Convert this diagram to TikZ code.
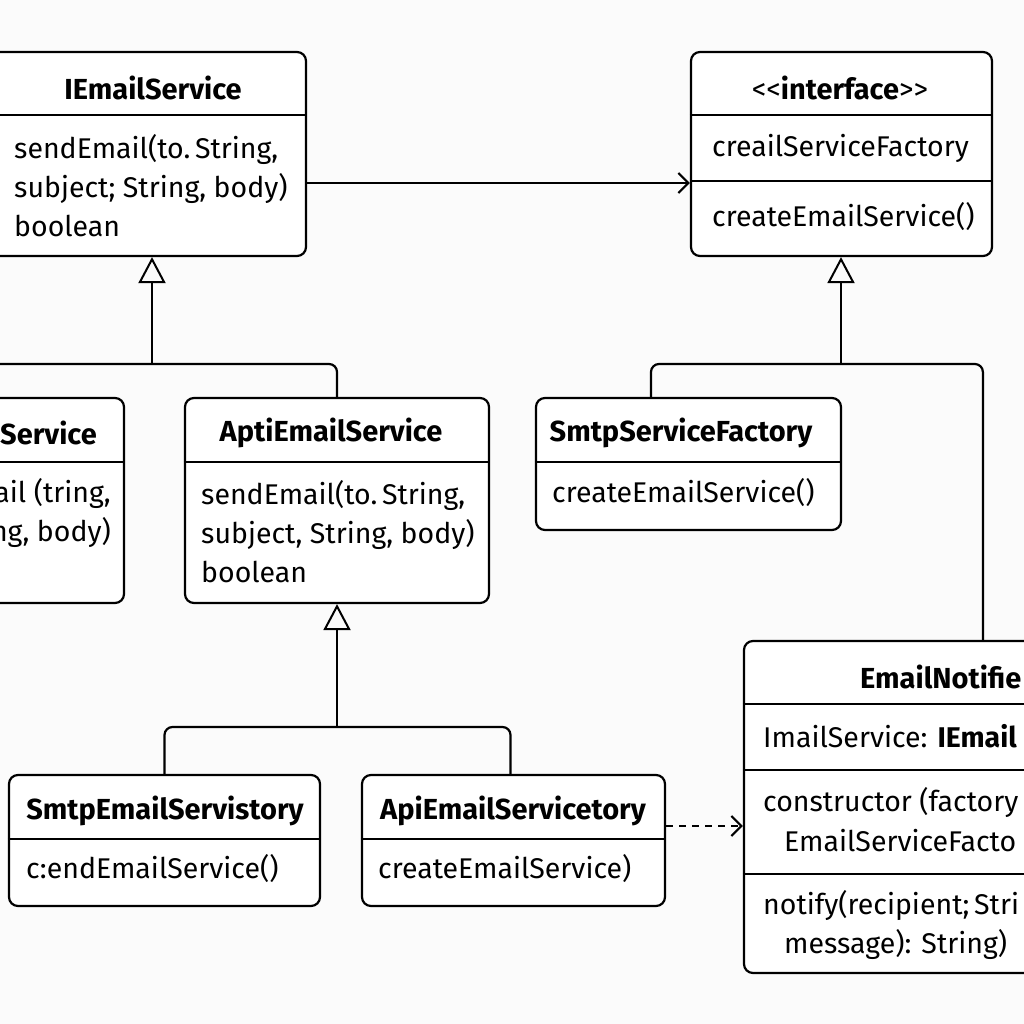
\documentclass[tikz,border=0pt]{standalone}
\usepackage{fontspec}
\setmainfont{Fira Sans}
\usetikzlibrary{arrows.meta,calc}
\definecolor{bgc}{RGB}{251,251,251}
\begin{document}
\begin{tikzpicture}[x=1pt,y=-1pt,
  box/.style={draw, line width=2.2pt, rounded corners=9pt, fill=white, inner sep=0pt},
  sepline/.style={line width=2.2pt},
  ttl/.style={font=\bfseries\fontsize{29}{32}\selectfont, inner sep=0pt},
  txt/.style={font=\fontsize{28.5}{39}\selectfont, inner sep=0pt, anchor=west, align=left},
  txte/.style={txt, anchor=east, align=right},
  conn/.style={line width=2.2pt},
  inh/.style={conn, -{Triangle[open, length=26pt, width=27pt, line width=2pt]}},
  opena/.style={conn, -{Straight Barb[length=10pt, width=20pt, line width=2.2pt]}},
  ]
\fill[bgc] (0,0) rectangle (1024,1024);
\useasboundingbox (0,0) rectangle (1024,1024);
\clip (0,0) rectangle (1024,1024);

% ---- boxes ----
\node[box, minimum width=326, minimum height=204] (ies) at (143,154) {};
\node[box, minimum width=301, minimum height=204] (iface) at (841.5,154) {};
\node[box, minimum width=304, minimum height=205] (lsvc) at (-28,500.5) {};
\node[box, minimum width=304, minimum height=205] (api) at (337,500.5) {};
\node[box, minimum width=305, minimum height=132] (smtpF) at (688.5,464) {};
\node[box, minimum width=311, minimum height=131] (sES) at (164.5,840.5) {};
\node[box, minimum width=303, minimum height=131] (aES) at (513.5,840.5) {};
\node[box, minimum width=356, minimum height=332] (notif) at (922,807) {};

% ---- separators ----
\draw[sepline] ($(ies.north west)+(0,64)$) -- ($(ies.north east)+(0,64)$);
\draw[sepline] ($(iface.north west)+(0,64)$) -- ($(iface.north east)+(0,64)$);
\draw[sepline] ($(iface.north west)+(0,130)$) -- ($(iface.north east)+(0,130)$);
\draw[sepline] ($(lsvc.north west)+(0,65)$) -- ($(lsvc.north east)+(0,65)$);
\draw[sepline] ($(api.north west)+(0,65)$) -- ($(api.north east)+(0,65)$);
\draw[sepline] ($(smtpF.north west)+(0,65)$) -- ($(smtpF.north east)+(0,65)$);
\draw[sepline] ($(sES.north west)+(0,65)$) -- ($(sES.north east)+(0,65)$);
\draw[sepline] ($(aES.north west)+(0,65)$) -- ($(aES.north east)+(0,65)$);
\draw[sepline] ($(notif.north west)+(0,64)$) -- ($(notif.north east)+(0,64)$);
\draw[sepline] ($(notif.north west)+(0,130)$) -- ($(notif.north east)+(0,130)$);
\draw[sepline] ($(notif.north west)+(0,234)$) -- ($(notif.north east)+(0,234)$);

% ---- texts ----
\node[ttl] (iesT) at (153,88) {IEmailService};
\node[txt] (iesB) at (14,186) {sendEmail(to.\,String,\\subject; String, body)\\boolean};

\node[ttl] (ifT) at (840,88) {{\mdseries <{}<}interface{\mdseries >{}>}};
\node[txt] (ifA) at (712,148) {creailServiceFactory};
\node[txt] (ifB) at (712,217) {createEmailService()};

\node[ttl, anchor=east] (lsT) at (97,433) {Service};
\node[txte] (lsB) at (111,512.5) {ail (tring,\\ng, body)};

\node[ttl] (apiT) at (331,433) {AptiEmailService};
\node[txt] (apiB) at (201,532) {sendEmail(to.\,String,\\subject, String, body)\\boolean};

\node[ttl] (sfT) at (681,433) {SmtpServiceFactory};
\node[txt] (sfB) at (552,493) {createEmailService()};

\node[ttl] (seT) at (165,811) {SmtpEmailServistory};
\node[txt] (seB) at (26,869) {c:endEmailService()};

\node[ttl] (aeT) at (513,811) {ApiEmailServicetory};
\node[txt] (aeB) at (378,869) {createEmailService)};

\node[ttl, anchor=west] (nT) at (860,677) {EmailNotifie};
\node[txt] (nA) at (763,736) {ImailService: \textbf{IEmail}};
\node[txt] (nB) at (763,802) {constructor (factory};
\node[txt] (nC) at (784,841) {EmailServiceFacto};
\node[txt] (nD) at (763,905) {notify(recipient;\,Stri};
\node[txt] (nE) at (784,944) {message): String)};

% ---- connectors ----
\coordinate (a1) at ([yshift=-29pt]ies.east);
\draw[opena] (a1) -- (a1 -| iface.west);

\coordinate (j1) at (152,364);
\draw[conn, rounded corners=8pt] (api.north) |- (j1) -| (lsvc.north);
\draw[inh] (j1) -- (j1 |- ies.south);

\coordinate (j2) at (841,364);
\draw[conn, rounded corners=8pt] ([xshift=-37.5pt]smtpF.north) |- (j2) -| ([xshift=240pt]notif.north west);
\draw[inh] (j2) -- (j2 |- iface.south);

\coordinate (j3) at (337,727);
\draw[conn, rounded corners=8pt] (sES.north) |- (j3) -| ([xshift=-3pt]aES.north);
\draw[inh] (j3) -- (api.south);

\coordinate (d1) at ([yshift=14.5pt]aES.east);
\draw[opena, dash pattern=on 7pt off 6pt] (d1) -- (d1 -| notif.west);
\end{tikzpicture}
\end{document}
